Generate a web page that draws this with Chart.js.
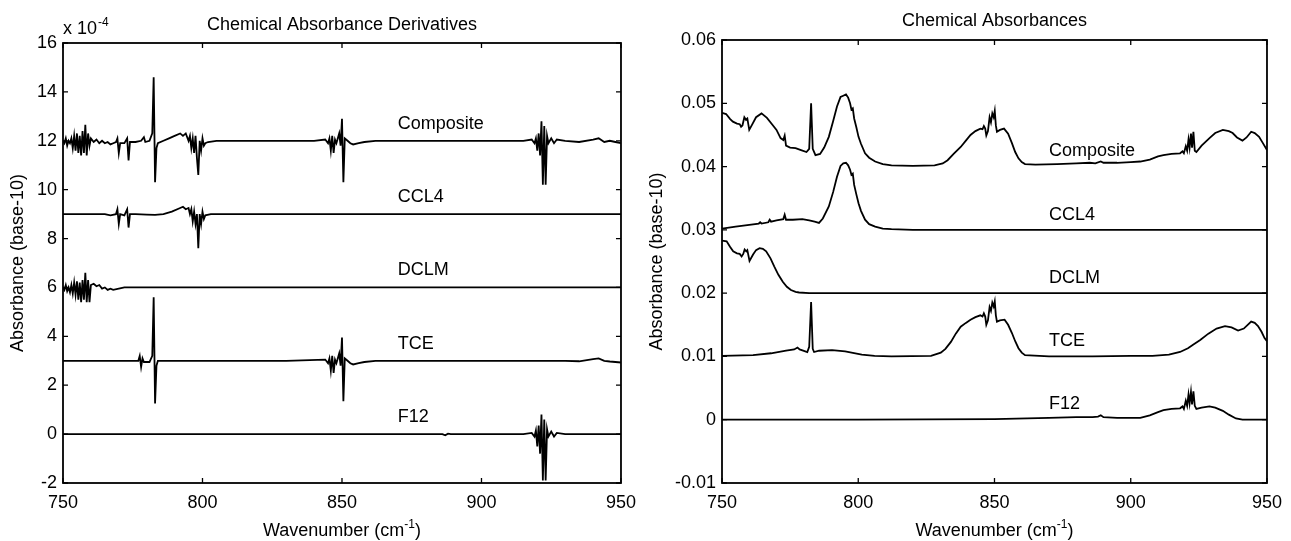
<!DOCTYPE html>
<html lang="en">
<head>
  <meta charset="UTF-8">
  <title>Chemical Absorbances</title>
  <script src="https://cdn.jsdelivr.net/npm/chart.js"></script>
  <style>
    body { margin: 0; background: #fff; }
    .panel { position: absolute; top: 0; }
  </style>
</head>
<body>
  <div class="panel" style="left:0"><canvas id="derivChart" width="645" height="541"></canvas></div>
  <div class="panel" style="left:645px"><canvas id="absChart" width="646" height="541"></canvas></div>

  <script>
    // axis ticks
    const xTicks = [750, 800, 850, 900, 950];
    const derivTicks = [-2, 0, 2, 4, 6, 8, 10, 12, 14, 16];
    const absTicks = [-0.01, 0, 0.01, 0.02, 0.03, 0.04, 0.05, 0.06];
    const absTickLabels = ['-0.01', '0', '0.01', '0.02', '0.03', '0.04', '0.05', '0.06'];

    const seriesNames = ['Composite', 'CCL4', 'DCLM', 'TCE', 'F12'];
    const derivLabelY = [12.7, 9.7, 6.7, 3.7, 0.7];
    const absLabelY = [0.0424, 0.0324, 0.0224, 0.0124, 0.0024];
    const labelX = 870;

    // absorbance derivatives (x 10^-4), [wavenumber, value]
    const compositeDeriv = [[750,12.0],[750.5,11.9],[751,12.1],[751.5,11.8],[752,12.0],[752.5,11.9],[753,12.1],[753.5,11.7],[754,12.2],[754.5,11.6],[755,12.3],[755.5,11.5],[756,12.2],[756.5,11.4],[757,12.4],[757.5,11.5],[758,12.65],[758.5,11.4],[759,12.3],[759.5,11.8],[760,12.1],[761,11.95],[762,12.05],[763,11.9],[764,12.0],[765,11.9],[766,11.95],[767,11.85],[768,11.9],[769,11.95],[769.5,12.1],[770,11.5],[770.5,11.9],[772,11.9],[773,12.1],[773.5,11.2],[774,11.95],[776,11.95],[778,12.0],[779,12.15],[779.5,11.95],[781,12.0],[782,12.3],[782.5,14.6],[783,10.3],[783.5,11.7],[784,11.9],[786,12.0],[788,12.1],[790,12.2],[792,12.3],[793,12.2],[794,12.3],[795,12.0],[795.5,12.2],[796,11.7],[796.5,12.1],[797,11.5],[797.5,12.2],[798,11.3],[798.5,10.6],[799,12.0],[799.5,11.6],[800,12.1],[800.5,11.8],[801,11.9],[802,11.95],[805,12.0],[820,12.0],[840,12.0],[844,12.05],[845,11.9],[845.5,12.1],[846,11.6],[846.5,12.2],[847,11.5],[847.5,12.05],[848,11.9],[849,12.3],[849.5,11.8],[850,12.9],[850.5,10.3],[851,12.1],[852,12.0],[853,11.9],[854,11.85],[856,11.9],[858,11.95],[862,12.0],[900,12.0],[915,12.0],[918,12.05],[919,11.9],[919.5,12.1],[920,11.6],[920.5,12.3],[921,11.4],[921.5,12.8],[922,10.2],[922.5,12.6],[923,10.2],[923.5,12.2],[924,11.9],[925,12.1],[926,11.9],[927,12.05],[930,12.0],[935,11.95],[940,12.05],[942,12.1],[944,11.95],[946,12.0],[948,11.95],[950,11.9]];
    const ccl4Deriv = [[750,9.0],[765,9.0],[767,8.95],[769,9.0],[769.5,9.2],[770,8.6],[770.5,9.0],[772,8.95],[773,9.2],[773.5,8.45],[774,9.0],[776,9.0],[780,8.98],[783,8.97],[786,9.0],[789,9.1],[792,9.25],[793,9.3],[794,9.2],[795,9.25],[795.5,9.0],[796,9.2],[796.5,8.7],[797,9.1],[797.5,8.6],[798,9.0],[798.5,7.6],[799,9.0],[799.5,8.6],[800,9.1],[800.5,8.8],[801,8.95],[803,9.0],[950,9.0]];
    const dclmDeriv = [[750,6.0],[750.5,5.9],[751,6.1],[751.5,5.85],[752,6.0],[752.5,5.8],[753,6.1],[753.5,5.75],[754,6.2],[754.5,5.7],[755,6.25],[755.5,5.5],[756,6.2],[756.5,5.4],[757,6.3],[757.5,5.5],[758,6.6],[758.5,5.4],[759,6.3],[759.5,5.4],[760,6.1],[761,6.15],[762,6.05],[763,6.1],[764,5.95],[765,6.0],[766,5.9],[767,5.95],[768,5.9],[770,5.95],[772,6.0],[950,6.0]];
    const tceDeriv = [[750,3.0],[777,3.0],[777.5,3.2],[778,2.75],[778.5,3.1],[779,2.95],[781,2.95],[782,3.2],[782.5,5.6],[783,1.25],[783.5,2.8],[784,3.0],[790,3.0],[805,3.0],[830,3.0],[844,3.05],[845,2.9],[845.5,3.1],[846,2.6],[846.5,3.2],[847,2.5],[847.5,3.05],[848,2.9],[849,3.3],[849.5,2.8],[850,3.95],[850.5,1.35],[851,3.1],[852,3.0],[853,2.9],[854,2.85],[856,2.9],[858,2.95],[862,3.0],[930,3.0],[935,2.98],[940,3.07],[942,3.1],[944,3.0],[946,2.97],[950,2.93]];
    const f12Deriv = [[750,0],[886,0],[887,-0.05],[888,0.02],[889,0],[915,0],[918,0.05],[919,-0.1],[919.5,0.15],[920,-0.5],[920.5,0.35],[921,-0.8],[921.5,0.8],[922,-1.9],[922.5,0.6],[923,-1.9],[923.5,0.2],[924,-0.1],[925,0.1],[926,-0.1],[927,0.05],[930,0],[950,0]];

    // absorbances (base-10), [wavenumber, value]
    const compositeAbs = [[750,0.0485],[751.5,0.0483],[753,0.0475],[754,0.0471],[755.5,0.0468],[756.5,0.0467],[757,0.0463],[757.5,0.0465],[758.2,0.0478],[758.8,0.0474],[759.3,0.0476],[760,0.0458],[761,0.0466],[762.5,0.0478],[764.5,0.0484],[766.5,0.0477],[768.5,0.0466],[770,0.0458],[771.5,0.0445],[772.5,0.0442],[773,0.0449],[773.5,0.0433],[775,0.043],[777,0.0429],[779,0.0426],[781,0.0423],[782,0.0428],[782.7,0.05],[783.3,0.0428],[784.3,0.0418],[786,0.042],[787.5,0.043],[789.2,0.0447],[790.8,0.0472],[792.2,0.0495],[793.5,0.051],[794.5,0.0512],[795.5,0.0514],[796.3,0.0509],[797,0.05],[797.5,0.049],[798,0.0492],[798.5,0.0476],[799.3,0.0462],[800.1,0.0447],[801,0.0436],[802.5,0.0421],[804,0.0414],[806.2,0.0408],[809,0.0404],[812.2,0.0402],[820,0.0401],[828,0.0402],[831,0.0405],[832.8,0.041],[835,0.042],[837.6,0.0431],[839.5,0.0441],[841.2,0.045],[843,0.0456],[844.8,0.046],[845.6,0.0459],[846.1,0.0464],[846.6,0.046],[847,0.0449],[847.6,0.0456],[848.2,0.0478],[848.7,0.047],[849.2,0.0484],[849.7,0.0478],[850.1,0.0488],[850.5,0.0465],[850.9,0.0455],[852,0.0458],[853.5,0.046],[855,0.0452],[856.4,0.0437],[857.6,0.0423],[858.8,0.0413],[860,0.0407],[861.2,0.0404],[865,0.0403],[873,0.0404],[880,0.0405],[885,0.0406],[887,0.0405],[889,0.0408],[890,0.0406],[895,0.0406],[900,0.0407],[903.5,0.0408],[907,0.0411],[910,0.0416],[912,0.0418],[915,0.042],[918.1,0.0421],[919,0.0424],[919.5,0.0421],[920.2,0.0432],[920.7,0.0425],[921.2,0.0443],[921.6,0.043],[922.1,0.0452],[922.5,0.043],[923,0.0455],[923.5,0.0425],[924.1,0.0423],[926,0.0433],[928.9,0.0445],[931,0.0453],[933.8,0.0458],[936,0.0456],[937.4,0.0453],[939,0.0446],[941,0.0441],[942.5,0.0446],[944.2,0.0455],[945.5,0.0453],[947.1,0.0447],[948.5,0.0437],[950,0.0426]];
    const ccl4Abs = [[750,0.0302],[755,0.0305],[760,0.0308],[763.5,0.031],[764,0.0312],[764.5,0.031],[767,0.0312],[767.5,0.0316],[768,0.0313],[770,0.0315],[772.5,0.0317],[773,0.0324],[773.5,0.0316],[776,0.0316],[779.5,0.0317],[782,0.0315],[784,0.0313],[785.6,0.0311],[787,0.0318],[789.2,0.0337],[790.8,0.036],[792.2,0.0384],[793.5,0.0401],[794.5,0.0405],[795.5,0.0406],[796.3,0.0402],[797,0.0395],[797.5,0.0387],[798,0.0389],[798.5,0.0371],[799.3,0.0356],[800.1,0.0342],[801,0.033],[802.5,0.0316],[804,0.0309],[806.2,0.0305],[809,0.0302],[812.2,0.0301],[820,0.03],[950,0.03]];
    const dclmAbs = [[750,0.0283],[751.7,0.0282],[753,0.0273],[754.1,0.0266],[755.5,0.0263],[756.5,0.0262],[757.2,0.0258],[757.8,0.0262],[758.3,0.0269],[758.9,0.0266],[759.3,0.0268],[760.1,0.0251],[761.4,0.0261],[762.5,0.0268],[763.8,0.0271],[765,0.027],[766.2,0.0266],[767.8,0.0255],[769.2,0.0242],[770.7,0.0229],[772.3,0.0218],[773.8,0.021],[775.3,0.0205],[777,0.0202],[778.3,0.0201],[782,0.02],[950,0.02]];
    const tceAbs = [[750,0.0101],[761.4,0.0102],[768,0.0105],[773.5,0.0109],[776.5,0.0111],[777.7,0.0114],[778.5,0.0111],[781.3,0.0107],[782,0.0115],[782.7,0.0186],[783.3,0.0112],[783.8,0.0107],[785.6,0.0109],[790.4,0.011],[795.2,0.0108],[801.3,0.0103],[806,0.0101],[812.2,0.01],[826.7,0.0101],[830.3,0.0106],[832,0.0112],[834,0.0123],[835.8,0.0136],[837.6,0.0147],[839.5,0.0153],[841.2,0.0158],[843,0.0162],[844.8,0.0165],[845.6,0.0163],[846.1,0.0168],[846.6,0.0163],[847,0.015],[847.6,0.0157],[848.2,0.0178],[848.7,0.0172],[849.2,0.0185],[849.7,0.0179],[850.1,0.0187],[850.5,0.0165],[850.9,0.0155],[852,0.0157],[853.7,0.0158],[855,0.015],[856.4,0.0137],[857.6,0.0124],[858.8,0.0113],[860,0.0106],[861.2,0.0102],[870,0.01],[886,0.01],[900,0.0101],[908,0.0101],[914,0.0103],[918.1,0.0107],[921,0.0113],[923,0.0119],[925.5,0.0126],[928.5,0.0136],[931.5,0.0144],[934.6,0.0148],[937,0.0146],[939.4,0.0141],[941.5,0.0144],[944.2,0.0155],[945.5,0.0153],[946.7,0.0148],[948,0.0139],[949.1,0.0129],[950,0.0124]];
    const f12Abs = [[750,0],[800,0],[850,0.0001],[870,0.0003],[880,0.0004],[886,0.0004],[888,0.0005],[889,0.0007],[890,0.0004],[895,0.0003],[903.5,0.0003],[907,0.0007],[910,0.0012],[912,0.0015],[915,0.0017],[918.1,0.0018],[919,0.0021],[919.5,0.0017],[920.2,0.003],[920.7,0.0022],[921.2,0.004],[921.6,0.0026],[922.1,0.0044],[922.5,0.0024],[923,0.0045],[923.5,0.0022],[924.1,0.0017],[926,0.0019],[928.9,0.0021],[931,0.0019],[933.8,0.0014],[936,0.0008],[938.6,0.0002],[941,0],[950,0]];

    const FONT = "'Liberation Sans', Arial, Helvetica, sans-serif";
    Chart.defaults.font.family = FONT;
    Chart.defaults.font.size = 18;
    Chart.defaults.color = '#000';

    function toDataset(points) {
      return {
        data: points.map(p => ({ x: p[0], y: p[1] })),
        borderColor: '#000',
        borderWidth: 1.8,
        pointRadius: 0,
        tension: 0,
        fill: false
      };
    }

    // box, inward ticks and all the text matlab-style
    const matlabFrame = {
      id: 'matlabFrame',
      afterDatasetsDraw(chart, args, opts) {
        const ctx = chart.ctx;
        const a = chart.chartArea;
        const xs = chart.scales.x, ys = chart.scales.y;
        ctx.save();
        ctx.strokeStyle = '#000';
        ctx.lineWidth = 1.8;
        ctx.strokeRect(a.left, a.top, a.right - a.left, a.bottom - a.top);
        ctx.lineWidth = 1.3;
        ctx.beginPath();
        xs.ticks.forEach(t => {
          const px = xs.getPixelForValue(t.value);
          ctx.moveTo(px, a.bottom); ctx.lineTo(px, a.bottom - 5);
          ctx.moveTo(px, a.top); ctx.lineTo(px, a.top + 5);
        });
        ys.ticks.forEach(t => {
          const py = ys.getPixelForValue(t.value);
          ctx.moveTo(a.left, py); ctx.lineTo(a.left + 5, py);
          ctx.moveTo(a.right, py); ctx.lineTo(a.right - 5, py);
        });
        ctx.stroke();

        ctx.fillStyle = '#000';
        ctx.font = '18px ' + FONT;
        const cx = (a.left + a.right) / 2;

        // title
        ctx.textAlign = 'center';
        ctx.textBaseline = 'alphabetic';
        ctx.fillText(opts.title, cx, opts.titleY);

        // series names
        ctx.textAlign = 'left';
        ctx.textBaseline = 'middle';
        opts.names.forEach((n, i) => {
          ctx.fillText(n, xs.getPixelForValue(labelX), ys.getPixelForValue(opts.labelY[i]));
        });

        // x axis title with superscript
        ctx.textBaseline = 'alphabetic';
        const main = 'Wavenumber (cm';
        ctx.font = '18px ' + FONT;
        const w1 = ctx.measureText(main).width;
        const w3 = ctx.measureText(')').width;
        ctx.font = '12px ' + FONT;
        const w2 = ctx.measureText('-1').width;
        let x0 = cx - (w1 + w2 + w3) / 2;
        ctx.font = '18px ' + FONT;
        ctx.textAlign = 'left';
        ctx.fillText(main, x0, 536);
        ctx.font = '12px ' + FONT;
        ctx.fillText('-1', x0 + w1, 528);
        ctx.font = '18px ' + FONT;
        ctx.fillText(')', x0 + w1 + w2, 536);

        // y axis title
        ctx.save();
        ctx.translate(opts.yTitleX, (a.top + a.bottom) / 2);
        ctx.rotate(-Math.PI / 2);
        ctx.textAlign = 'center';
        ctx.textBaseline = 'middle';
        ctx.fillText('Absorbance (base-10)', 0, 0);
        ctx.restore();

        // exponent
        if (opts.exponent) {
          ctx.textAlign = 'left';
          ctx.textBaseline = 'alphabetic';
          ctx.font = '18px ' + FONT;
          ctx.fillText('x 10', a.left, 34);
          const wx = ctx.measureText('x 10').width;
          ctx.font = '12px ' + FONT;
          ctx.fillText(opts.exponent, a.left + wx + 1, 26);
        }
        ctx.restore();
      }
    };

    function makeChart(id, datasets, yMin, yMax, yTickValues, yLabelFn, pad, yWidth, frameOpts) {
      return new Chart(document.getElementById(id), {
        type: 'line',
        data: { datasets: datasets },
        plugins: [matlabFrame],
        options: {
          responsive: false,
          animation: false,
          events: [],
          layout: { padding: pad },
          plugins: {
            legend: { display: false },
            title: { display: false },
            tooltip: { enabled: false },
            matlabFrame: frameOpts
          },
          scales: {
            x: {
              type: 'linear',
              min: 750,
              max: 950,
              afterBuildTicks: s => { s.ticks = xTicks.map(v => ({ value: v })); },
              afterFit: s => { s.height = 58; },
              grid: { display: false, drawTicks: false },
              border: { display: false },
              ticks: { padding: 9, maxRotation: 0, autoSkip: false, callback: v => String(v) }
            },
            y: {
              type: 'linear',
              min: yMin,
              max: yMax,
              afterBuildTicks: s => { s.ticks = yTickValues.map(v => ({ value: v })); },
              afterFit: s => { s.width = yWidth; },
              grid: { display: false, drawTicks: false },
              border: { display: false },
              ticks: { padding: 6, autoSkip: false, callback: yLabelFn }
            }
          }
        }
      });
    }

    makeChart('derivChart',
      [compositeDeriv, ccl4Deriv, dclmDeriv, tceDeriv, f12Deriv].map(toDataset),
      -2, 16, derivTicks, v => String(v),
      { top: 43, right: 22, left: 0, bottom: 0 }, 63,
      { title: 'Chemical Absorbance Derivatives', titleY: 30, names: seriesNames, labelY: derivLabelY, yTitleX: 18, exponent: '-4' });

    makeChart('absChart',
      [compositeAbs, ccl4Abs, dclmAbs, tceAbs, f12Abs].map(toDataset),
      -0.01, 0.06, absTicks, (v, i) => absTickLabels[i],
      { top: 40, right: 18, left: 0, bottom: 0 }, 77,
      { title: 'Chemical Absorbances', titleY: 26, names: seriesNames, labelY: absLabelY, yTitleX: 12, exponent: null });
  </script>
</body>
</html>
